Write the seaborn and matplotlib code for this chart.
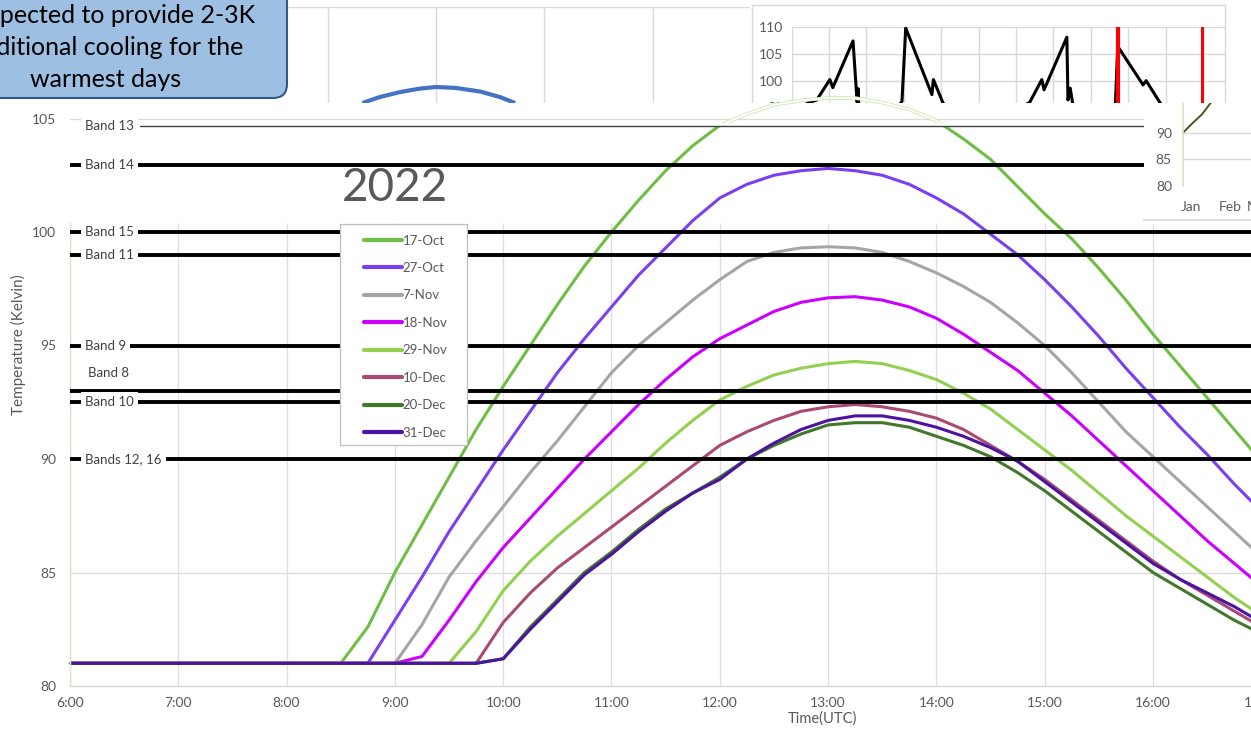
import numpy as np
import pandas as pd
import matplotlib
matplotlib.use("Agg")
import matplotlib.pyplot as plt
import matplotlib.patheffects as pe
from matplotlib.patches import Rectangle, FancyBboxPatch
from matplotlib.lines import Line2D
from matplotlib.transforms import IdentityTransform
import seaborn as sns

W, H = 1251, 731

# ---- main chart data (hour UTC -> temperature K) ----
hours = [6.0, 8.5, 8.75, 9.0, 9.25, 9.5, 9.75, 10.0, 10.25, 10.5, 10.75, 11.0,
         11.25, 11.5, 11.75, 12.0, 12.25, 12.5, 12.75, 13.0, 13.25, 13.5, 13.75,
         14.0, 14.25, 14.5, 14.75, 15.0, 15.25, 15.5, 15.75, 16.0, 16.25, 16.5,
         16.75, 17.0]
oct17 = [81.0, 81.0, 82.6, 85.0, 87.1, 89.2, 91.3, 93.2, 95.0, 96.8, 98.5, 100.0,
         101.4, 102.7, 103.8, 104.7, 105.2, 105.6, 105.8, 105.9, 105.9, 105.7, 105.4,
         104.9, 104.1, 103.2, 102.0, 100.8, 99.7, 98.4, 97.0, 95.5, 94.1, 92.7,
         91.3, 89.9]
oct27 = [81.0, 81.0, 81.0, 82.9, 84.8, 86.8, 88.6, 90.4, 92.1, 93.8, 95.3, 96.7,
         98.1, 99.3, 100.5, 101.5, 102.1, 102.5, 102.7, 102.8, 102.7, 102.5, 102.1,
         101.5, 100.8, 99.9, 99.0, 97.9, 96.7, 95.4, 94.0, 92.7, 91.4, 90.2,
         88.9, 87.7]
nov7 = [81.0, 81.0, 81.0, 81.0, 82.7, 84.8, 86.4, 87.9, 89.4, 90.8, 92.3, 93.8,
        95.0, 96.0, 97.0, 97.9, 98.7, 99.1, 99.3, 99.35, 99.3, 99.1, 98.7,
        98.2, 97.6, 96.9, 96.0, 95.0, 93.8, 92.5, 91.2, 90.1, 89.0, 87.9,
        86.8, 85.7]
nov18 = [81.0, 81.0, 81.0, 81.0, 81.3, 82.9, 84.6, 86.1, 87.4, 88.7, 90.0, 91.2,
         92.4, 93.5, 94.5, 95.3, 95.9, 96.5, 96.9, 97.1, 97.15, 97.0, 96.7,
         96.2, 95.5, 94.7, 93.9, 92.9, 91.9, 90.8, 89.7, 88.6, 87.5, 86.4,
         85.4, 84.4]
nov29 = [81.0, 81.0, 81.0, 81.0, 81.0, 81.0, 82.4, 84.2, 85.5, 86.6, 87.6, 88.6,
         89.6, 90.7, 91.7, 92.6, 93.2, 93.7, 94.0, 94.2, 94.3, 94.2, 93.9,
         93.5, 92.9, 92.2, 91.3, 90.4, 89.5, 88.5, 87.5, 86.6, 85.7, 84.8,
         83.9, 83.1]
dec10 = [81.0, 81.0, 81.0, 81.0, 81.0, 81.0, 81.0, 82.8, 84.1, 85.2, 86.1, 87.0,
         87.9, 88.8, 89.7, 90.6, 91.2, 91.7, 92.1, 92.3, 92.4, 92.3, 92.1,
         91.8, 91.3, 90.6, 89.9, 89.1, 88.2, 87.3, 86.4, 85.5, 84.7, 84.0,
         83.3, 82.6]
dec20 = [81.0, 81.0, 81.0, 81.0, 81.0, 81.0, 81.0, 81.2, 82.6, 83.8, 85.0, 85.9,
         86.9, 87.8, 88.5, 89.2, 90.0, 90.6, 91.1, 91.5, 91.6, 91.6, 91.4,
         91.0, 90.6, 90.1, 89.4, 88.6, 87.7, 86.8, 85.9, 85.0, 84.3, 83.6,
         82.9, 82.3]
dec31 = [81.0, 81.0, 81.0, 81.0, 81.0, 81.0, 81.0, 81.2, 82.5, 83.7, 84.9, 85.8,
         86.8, 87.7, 88.5, 89.1, 90.0, 90.7, 91.3, 91.7, 91.9, 91.9, 91.7,
         91.4, 91.0, 90.5, 89.9, 89.0, 88.1, 87.2, 86.3, 85.4, 84.7, 84.1,
         83.5, 82.8]

dates = ["17-Oct", "27-Oct", "7-Nov", "18-Nov", "29-Nov", "10-Dec", "20-Dec", "31-Dec"]
series = [oct17, oct27, nov7, nov18, nov29, dec10, dec20, dec31]
colors = ["#6fbe44", "#7b3ff2", "#a5a5a5", "#cc00ff", "#92d050", "#a94a73",
          "#42782a", "#4c12a1"]

band_names = ["Band 13", "Band 14", "Band 15", "Band 11", "Band 9", "Band 8",
              "Band 10", "Bands 12, 16"]
band_temps = [104.67, 102.95, 100.0, 99.0, 95.0, 93.0, 92.5, 90.0]

# ---- top-right inset chart ----
inset_x = [0.0, 0.41, 0.67, 1.02, 1.10, 1.64, 1.75, 1.78, 1.80, 2.0, 2.89, 2.95,
           3.05, 3.75, 3.79, 4.05, 5.0, 6.37, 6.69, 6.75, 7.36, 7.39, 7.45, 7.6,
           8.6, 8.66, 8.72, 9.4, 9.48, 9.86, 10.5]
inset_y = [90.0, 95.8, 96.4, 100.2, 98.7, 107.4, 96.0, 98.5, 94.0, 90.0, 95.5, 96.2,
           109.8, 97.4, 100.2, 95.8, 90.0, 96.0, 100.2, 98.3, 108.1, 96.4, 98.6, 92.0,
           90.0, 96.0, 106.4, 99.2, 100.0, 95.8, 90.0]
inset_red_x = [8.72, 10.97]

# ---- small chart peeking in at the right ----
small_x = [0.0, 0.26, 0.48, 0.65, 0.75]
small_y = [90.0, 91.9, 93.4, 95.0, 96.0]
small_months = ["Jan", "Feb", "Mar"]

# ---- background chart arc behind the callout ----
arc_x = [12.32, 12.48, 12.67, 12.85, 13.0, 13.18, 13.41, 13.59, 13.73]
arc_y = [105.8, 106.06, 106.28, 106.43, 106.5, 106.46, 106.3, 106.06, 105.8]

GRID = "#d9d9d9"
VGRID = "#dcdcea"
TXT = "#595959"


def px_axes(left, top, right, bottom):
    return [left / W, 1 - bottom / H, (right - left) / W, (bottom - top) / H]


sns.set_theme(style="white")
plt.rcParams["font.family"] = ["Lato", "DejaVu Sans"]

fig = plt.figure(figsize=(W / 100, H / 100), dpi=100)

# background chart (behind callout)
ax_bg = fig.add_axes(px_axes(0, 7, 750, 103))
ax_bg.set_zorder(0)
ax_bg.set_xlim(8.974, 15.899)
ax_bg.set_ylim(105.8, 110)
ax_bg.set_xticks([12, 13, 14, 15])
ax_bg.set_yticks([110])
ax_bg.grid(True, color=GRID, lw=1)
ax_bg.tick_params(length=0, labelbottom=False, labelleft=False)
for s in ax_bg.spines.values():
    s.set_visible(False)
ax_bg.plot(arc_x, arc_y, color="#4472c4", lw=3, solid_capstyle="butt")

# callout box
box = FancyBboxPatch((-40, H - 98), 327, 140, boxstyle="round,pad=0,rounding_size=14",
                     transform=IdentityTransform(), facecolor="#9dbfe2",
                     edgecolor="#2e5a8e", lw=1.5, zorder=0.5)
fig.add_artist(box)
for txt, xr, yb in [("is expected to provide 2-3K", 255, 23),
                    ("additional cooling for the", 243, 55),
                    ("warmest days", 181, 87)]:
    fig.text(xr / W, 1 - yb / H, txt, ha="right", va="baseline", fontsize=18,
             color="black", zorder=0.6)

# top-right inset chart
ax_tf = fig.add_axes(px_axes(752, 5, 1225, 115))
ax_tf.set_zorder(1)
ax_tf.set_xticks([])
ax_tf.set_yticks([])
for s in ax_tf.spines.values():
    s.set_color(GRID)
    s.set_linewidth(1)

ax_in = fig.add_axes(px_axes(791.7, 27, 1225, 107.5))
ax_in.set_zorder(1.1)
ax_in.patch.set_alpha(0)
ax_in.set_xlim(0, 11.59)
ax_in.set_ylim(95, 110)
ax_in.set_xticks(range(0, 12))
ax_in.set_yticks([95, 100, 105, 110])
ax_in.grid(True, color=GRID, lw=1)
ax_in.tick_params(length=0, labelbottom=False, labelsize=10, labelcolor=TXT, pad=6)
for s in ax_in.spines.values():
    s.set_visible(False)
sns.lineplot(x=inset_x, y=inset_y, color="black", lw=2.2, sort=False,
             estimator=None, ax=ax_in)
for xr, lw in zip(inset_red_x, [3.0, 2.2]):
    ax_in.axvline(xr, color="#ff0000", lw=lw, zorder=3)

# main chart
ax = fig.add_axes(px_axes(70, 103, 1300, 686))
ax.set_zorder(2)
ax.set_facecolor("white")

df = pd.DataFrame({
    "hour": hours * len(dates),
    "temp": [v for s in series for v in s],
    "date": [d for d in dates for _ in hours],
})
sns.lineplot(data=df, x="hour", y="temp", hue="date", hue_order=dates,
             palette=dict(zip(dates, colors)), linewidth=2.2, legend=False,
             estimator=None, sort=False, ax=ax)
curve_lines = ax.lines[:len(dates)]
for i, ln in enumerate(curve_lines):
    ln.set_zorder(2 + i * 0.05)
    ln.set_solid_joinstyle("round")

x_max = 6 + 1230 / 108.3
y_max = 80 + 583 / 22.7
ax.set_xlim(6, x_max)
ax.set_ylim(80, y_max)

# the 17-Oct curve only shows as a faint outline above Band 13
top_cut = band_temps[0]
curve_lines[0].set_clip_path(Rectangle((5, 70), 15, top_cut - 70, transform=ax.transData))
ghost, = ax.plot(hours, oct17, color="white", lw=1.4, zorder=2.9,
                 path_effects=[pe.Stroke(linewidth=2.6, foreground="#cde7b4"), pe.Normal()])
ghost.set_clip_path(Rectangle((5, top_cut + 0.12), 15, 10, transform=ax.transData))

# grid
ax.set_yticks([80, 85, 90, 95, 100, 105])
ax.yaxis.grid(True, color=GRID, lw=0.9, zorder=0.5)
ax.xaxis.grid(False)
hour_ticks = list(range(6, 18))
ax.vlines(hour_ticks, 80, 100.4, colors=VGRID, lw=0.9, zorder=0.6)

ax.set_xticks(hour_ticks)
ax.set_xticklabels([f"{h}:00" for h in hour_ticks])
ax.set_xticks(np.arange(6, 17.4, 0.2), minor=True)
ax.tick_params(axis="x", which="both", direction="inout", length=6, width=0.8,
               color="#bfbfbf", labelsize=10, labelcolor=TXT, pad=5)
ax.tick_params(axis="y", length=0, labelsize=10, labelcolor=TXT, pad=10)

for side in ["top", "right"]:
    ax.spines[side].set_visible(False)
ax.spines["bottom"].set_color(GRID)
ax.spines["bottom"].set_linewidth(1)
ax.spines["left"].set_color("#e2e2c8")
ax.spines["left"].set_linewidth(1)
ax.spines["left"].set_bounds(80, 100.4)

ax.set_xlabel("Time(UTC)", fontsize=10.5, color=TXT)
ax.xaxis.set_label_coords((822 - 70) / 1230, -(711 - 686) / 583)
ax.set_ylabel("Temperature (Kelvin)", fontsize=11, color=TXT)
ax.yaxis.set_label_coords(-(70 - 26) / 1230, (686 - 345) / 583)

# bands
for name, temp in zip(band_names, band_temps):
    thin = name == "Band 13"
    ax.axhline(temp, xmin=(140 - 70) / 1230 if thin else 0,
               color="#404040" if thin else "black", lw=1.0 if thin else 2.8,
               zorder=4)
    if name == "Band 8":
        ax.text(6.165, temp + 0.78, name, fontsize=9.5, color="#404040",
                va="center", ha="left", zorder=5)
    else:
        ax.text(6.14, temp, name, fontsize=9.5, color="#404040", va="center",
                ha="left", zorder=5,
                bbox=dict(boxstyle="square,pad=0.3", fc="white", ec="none"))

# legend
frame = Rectangle((340, H - 445), 127, 221, transform=IdentityTransform(),
                  facecolor="white", edgecolor="#bfbfbf", lw=0.9, zorder=6)
frame.set_clip_on(False)
ax.add_artist(frame)
handles = [Line2D([], [], color=c, lw=3) for c in colors]
leg = ax.legend(handles, dates, loc="upper left", bbox_to_anchor=(357 / W, 1 - 228 / H),
                bbox_transform=fig.transFigure, frameon=False, borderpad=0,
                handlelength=2.9, handletextpad=0.05, labelspacing=1.17,
                fontsize=9.5, labelcolor=TXT)
leg.set_zorder(7)

# small chart patch on the right
ax_p = fig.add_axes(px_axes(1144, 103, 1300, 220))
ax_p.set_zorder(3)
ax_p.set_facecolor("white")
ax_p.set_xticks([])
ax_p.set_yticks([])
for side, s in ax_p.spines.items():
    s.set_visible(side == "bottom")
    s.set_color(GRID)

ax_s = fig.add_axes(px_axes(1183, 103, 1300, 186))
ax_s.set_zorder(3.1)
ax_s.patch.set_alpha(0)
ax_s.set_xlim(0, 3.0)
ax_s.set_ylim(80, 95.57)
ax_s.set_yticks([80, 85, 90])
ax_s.set_xticks([0.2, 1.22, 1.96])
ax_s.set_xticklabels(small_months)
ax_s.yaxis.grid(True, color=GRID, lw=1)
ax_s.yaxis.get_gridlines()[0].set_visible(False)
ax_s.tick_params(length=0, labelsize=10, labelcolor=TXT, pad=8)
ax_s.tick_params(axis="x", pad=11)
for side, s in ax_s.spines.items():
    s.set_visible(side == "left")
    s.set_color("#e2e2c8")
ax_s.plot(small_x, small_y, color="#404040", lw=1.2,
          path_effects=[pe.Stroke(linewidth=2.2, foreground="#f2f0a0"), pe.Normal()])

fig.text(395 / W, 1 - 188 / H, "2022", ha="center", va="center", fontsize=33,
         color=TXT, zorder=4)

fig.savefig("out.png", dpi=100)
